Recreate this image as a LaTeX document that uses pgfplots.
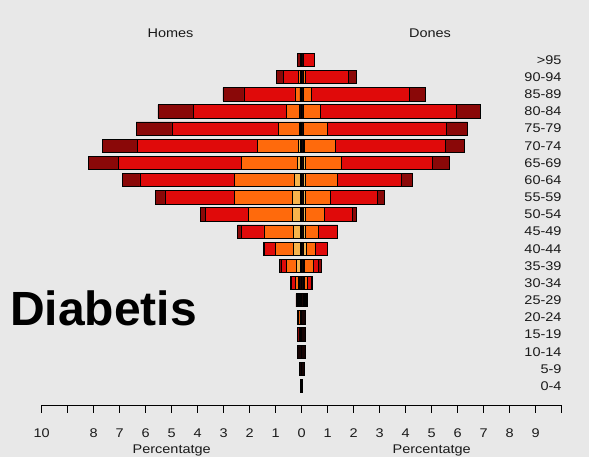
\documentclass[border=0pt]{standalone}
\usepackage{fontspec}
\setmainfont{Liberation Sans}
\newfontfamily\lab{Liberation Sans}[FakeStretch=1.15]
\usepackage{pgfplots}
\usepackage{pgfplotstable}
\pgfplotsset{compat=1.18}

\definecolor{bg}{HTML}{E8E8E8}
\definecolor{c1}{HTML}{160404}
\definecolor{c2}{HTML}{F7B44C}
\definecolor{c3}{HTML}{FF6A0C}
\definecolor{c4}{HTML}{E00A0A}
\definecolor{c5}{HTML}{8A0808}
\definecolor{txt}{HTML}{1A1A1A}

% i = age group (0 = 0-4 ... 19 = >95), segments from the centre outwards
\pgfplotstableread{
i k l o r d
0 0.05 0 0 0 0
1 0.10 0 0 0 0
2 0.15 0 0 0 0
3 0.07 0 0.03 0 0.05
4 0.07 0 0.04 0 0.07
5 0.07 0.02 0.05 0.04 0.04
6 0.08 0.03 0.12 0.15 0.04
7 0.06 0.13 0.41 0.17 0.09
8 0.06 0.26 0.70 0.42 0.03
9 0.06 0.26 1.13 0.88 0.13
10 0.06 0.30 1.70 1.65 0.17
11 0.06 0.30 2.23 2.67 0.37
12 0.05 0.23 2.31 3.63 0.69
13 0.05 0.13 2.13 4.73 1.15
14 0.05 0.08 1.56 4.62 1.37
15 0.06 0.02 0.83 4.08 1.38
16 0.08 0 0.52 3.58 1.35
17 0.07 0 0.19 1.96 0.81
18 0.06 0 0.06 0.59 0.27
19 0.06 0 0 0 0.10
}\homes

\pgfplotstableread{
i k l o r d
0 0.04 0 0 0 0
1 0.10 0 0 0 0
2 0.16 0 0 0 0
3 0.13 0 0 0 0
4 0.13 0 0 0 0
5 0.07 0.03 0.04 0.04 0.04
6 0.06 0.05 0.12 0.14 0.03
7 0.05 0.06 0.35 0.19 0.09
8 0.05 0.12 0.35 0.45 0
9 0.05 0.09 0.51 0.73 0
10 0.05 0.09 0.74 1.06 0.17
11 0.05 0.09 0.96 1.80 0.27
12 0.05 0.09 1.22 2.48 0.41
13 0.05 0.09 1.37 3.51 0.65
14 0.07 0.03 1.20 4.22 0.73
15 0.07 0 0.92 4.57 0.82
16 0.07 0 0.66 5.21 0.93
17 0.06 0 0.31 3.76 0.63
18 0.06 0 0.09 1.64 0.32
19 0.06 0 0 0.42 0
}\dones

\pgfplotsset{
  pyr/.style={
    xbar stacked, scale only axis,
    width=260pt, height=353.6pt,
    xmin=0, xmax=10, ymin=-1.107, ymax=19.5,
    bar width=13.3pt, clip=false,
    axis x line*=bottom,
    x axis line style={black, line width=0.8pt, -},
    y axis line style={draw=none},
    ytick style={draw=none},
    xtick={0,...,10},
    tick align=outside, major tick length=8pt,
    xtick style={black, line width=0.8pt},
    /pgf/number format/assume math mode=true,
    tick label style={font=\lab\fontsize{12.6}{14}\selectfont, text=txt},
    xticklabel style={anchor=north, inner sep=0pt, yshift=-16pt},
    xlabel={Percentatge},
    xlabel style={at={(axis description cs:0.5,0)}, anchor=center, yshift=-45pt,
                  font=\lab\fontsize{12.6}{14}\selectfont, text=txt},
    every axis plot/.append style={draw=black, line width=0.75pt},
  }
}

\begin{document}
\begin{tikzpicture}[x=1pt,y=1pt]
\fill[bg] (0,0) rectangle (589,457);
\useasboundingbox (0,0) rectangle (589,457);

\begin{axis}[pyr, at={(41.7pt,52pt)}, anchor=south west,
  x dir=reverse, axis y line*=left, ytick=\empty,
  xticklabels={,1,2,3,4,5,6,7,8,,10}]
  \addplot[fill=c1] table[x=k, y=i] {\homes};
  \addplot[fill=c2] table[x=l, y=i] {\homes};
  \addplot[fill=c3] table[x=o, y=i] {\homes};
  \addplot[fill=c4] table[x=r, y=i] {\homes};
  \addplot[fill=c5] table[x=d, y=i] {\homes};
\end{axis}

\begin{axis}[pyr, at={(301.7pt,52pt)}, anchor=south west,
  axis y line*=right, ytick={0,...,19},
  yticklabels={0-4,5-9,10-14,15-19,20-24,25-29,30-34,35-39,40-44,45-49,50-54,55-59,60-64,65-69,70-74,75-79,80-84,85-89,90-94,>95},
  yticklabel style={anchor=east, inner sep=0pt, xshift=-8pt},
  xticklabels={0,1,2,3,4,5,6,7,8,9,}]
  \addplot[fill=c1] table[x=k, y=i] {\dones};
  \addplot[fill=c2] table[x=l, y=i] {\dones};
  \addplot[fill=c3] table[x=o, y=i] {\dones};
  \addplot[fill=c4] table[x=r, y=i] {\dones};
  \addplot[fill=c5] table[x=d, y=i] {\dones};
\end{axis}

\node[font=\lab\fontsize{12.6}{14}\selectfont, text=txt] at (170.5,424) {Homes};
\node[font=\lab\fontsize{12.6}{14}\selectfont, text=txt] at (430,424) {Dones};
\node[anchor=base west, inner sep=0pt, font=\bfseries\fontsize{48}{50}\selectfont] at (10,131) {Diabetis};
\end{tikzpicture}
\end{document}
